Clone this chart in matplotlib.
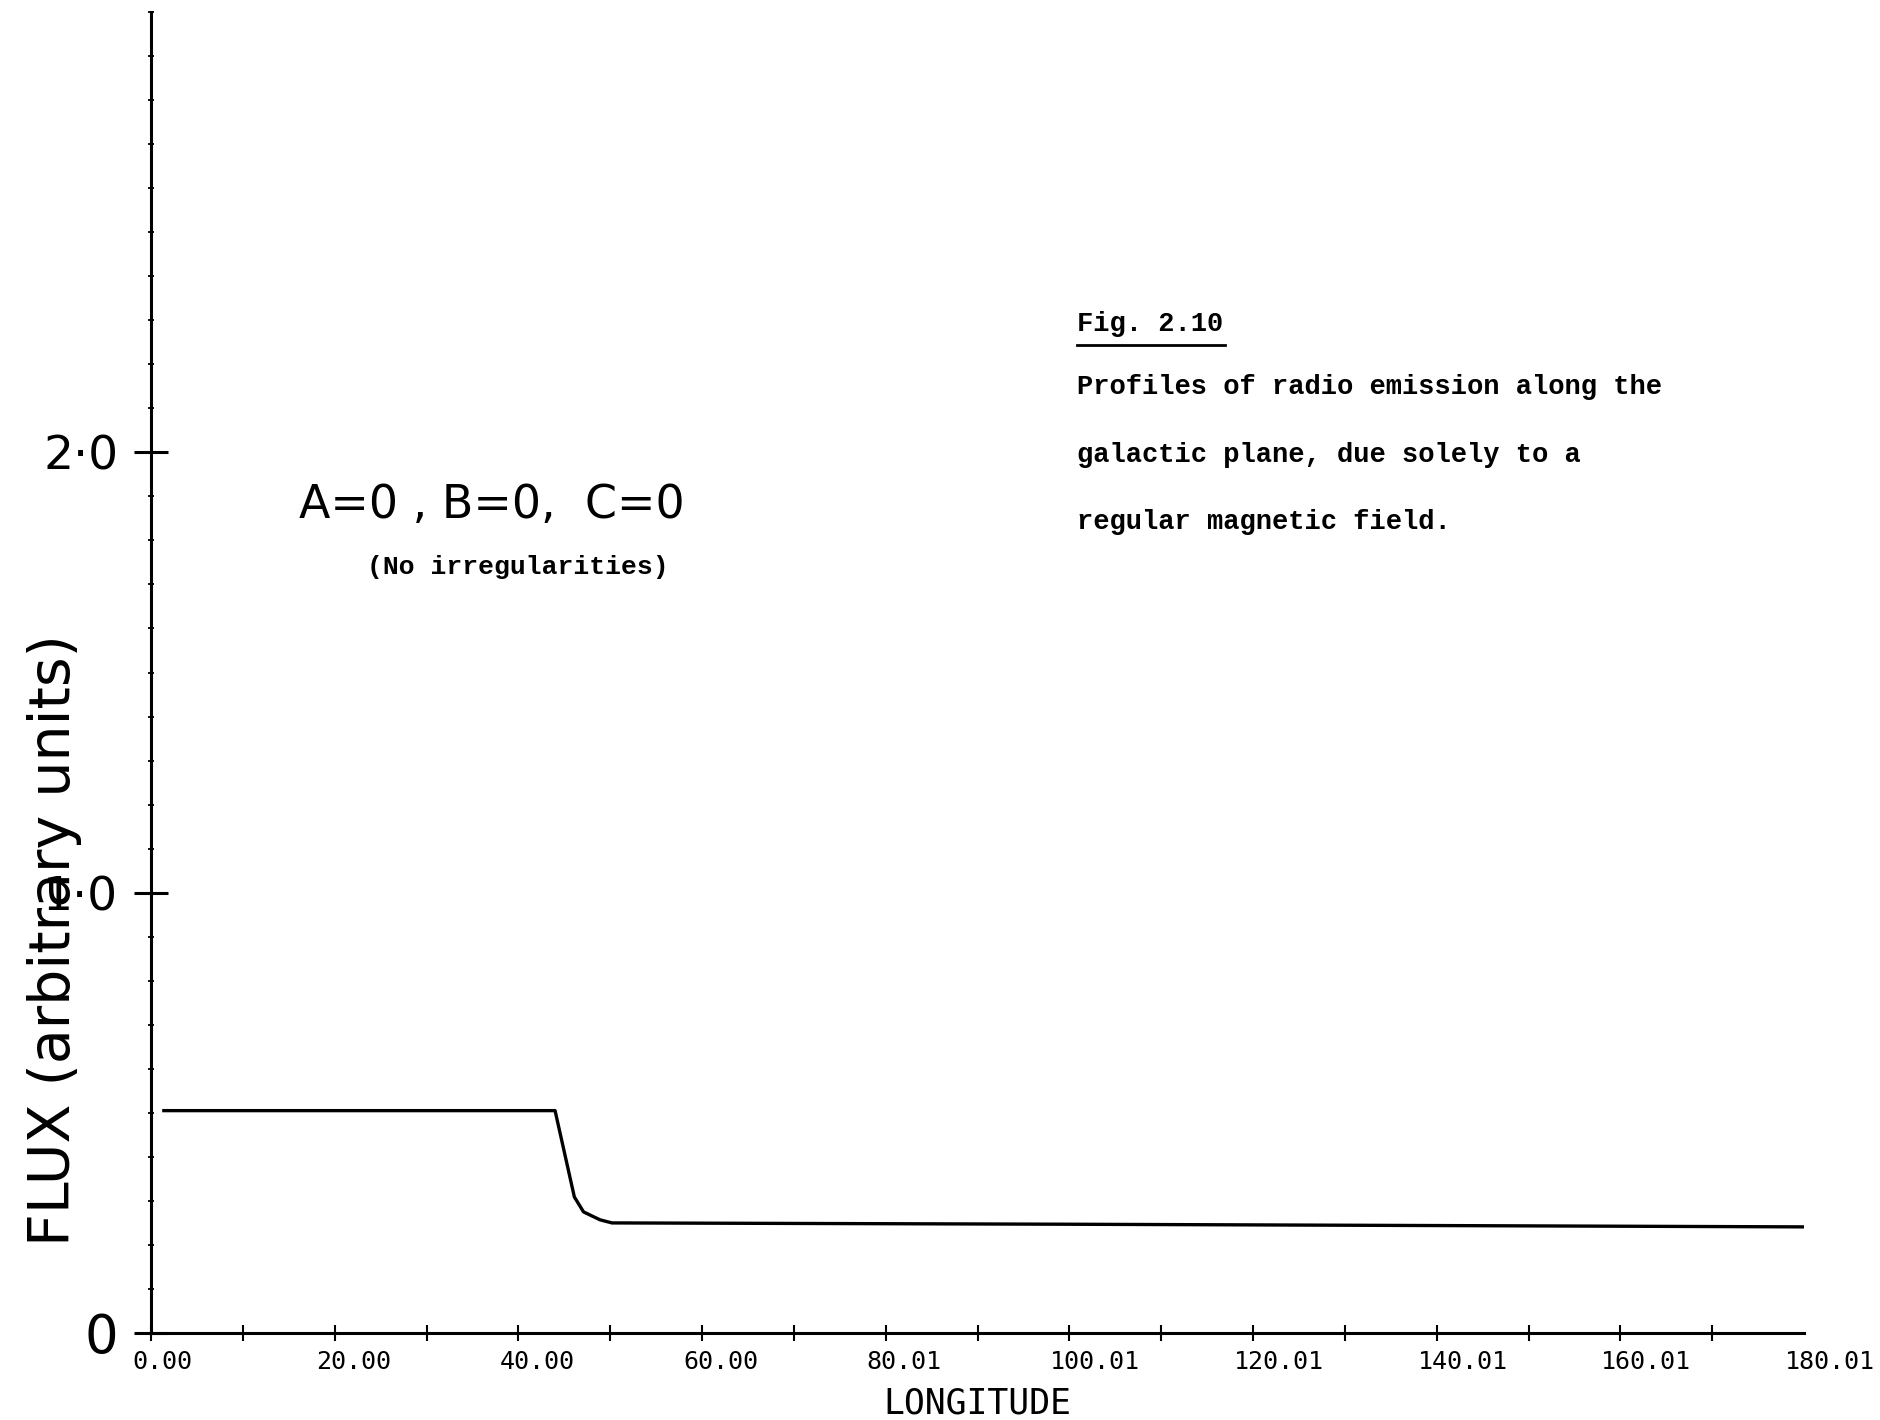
import matplotlib.pyplot as plt
from matplotlib.lines import Line2D
from matplotlib.ticker import MultipleLocator
from matplotlib.transforms import ScaledTranslation

# flux profile along the galactic plane (regular field only)
longitude = [1.4, 44.0, 46.1, 47.1, 48.9, 50.2, 100.0, 180.0]
flux = [0.505, 0.505, 0.309, 0.275, 0.257, 0.250, 0.247, 0.241]

x_ticks = [0, 20, 40, 60, 80, 100, 120, 140, 160, 180]
x_labels = ["0.00", "20.00", "40.00", "60.00", "80.01",
            "100.01", "120.01", "140.01", "160.01", "180.01"]
y_ticks = [0, 1, 2]
y_labels = ["0", "1·0", "2·0"]

caption_title = "Fig. 2.10"
caption_lines = ["Profiles of radio emission along the",
                 "galactic plane, due solely to a",
                 "regular magnetic field."]

W, H = 1880, 1420
fig = plt.figure(figsize=(W / 100, H / 100), dpi=100)
ax = fig.add_axes([151 / W, 1 - 1333 / H, (1804 - 151) / W, (1333 - 12) / H])

ax.plot(longitude, flux, color="black", lw=2.4, solid_joinstyle="round")
ax.set_xlim(0, 180)
ax.set_ylim(0, 3)

for side in ["top", "right"]:
    ax.spines[side].set_visible(False)
for side in ["left", "bottom"]:
    ax.spines[side].set_linewidth(2.2)

# x axis: plotter style labels hanging to the left of each tick
ax.set_xticks(x_ticks, x_labels, fontfamily="DejaVu Sans Mono", fontsize=18)
ax.xaxis.set_minor_locator(MultipleLocator(10))
ax.tick_params(axis="x", which="both", direction="inout", length=12, width=1.5, pad=6)
shift = ScaledTranslation(-0.19, 0, fig.dpi_scale_trans)
for lbl in ax.get_xticklabels():
    lbl.set_ha("left")
    lbl.set_transform(lbl.get_transform() + shift)
ax.xaxis.get_major_ticks()[-1].tick1line.set_visible(False)
ax.set_xlabel("LONGITUDE", fontfamily="DejaVu Sans Mono", fontsize=25, labelpad=9)

# y axis
ax.set_yticks(y_ticks, y_labels, fontsize=34)
ax.yaxis.set_minor_locator(MultipleLocator(0.1))
ax.tick_params(axis="y", which="major", direction="inout", length=25, width=2.2, pad=11)
ax.tick_params(axis="y", which="minor", direction="inout", length=4, width=1.3)
ax.get_yticklabels()[0].set_fontsize(38)
ax.set_ylabel("FLUX (arbitrary units)", fontsize=41)
ax.yaxis.set_label_coords(-0.042, 0.2975)

# model parameters
fig.text(492 / W, 1 - 505 / H, "A=0 , B=0,  C=0", ha="center", va="center", fontsize=33)
fig.text(518 / W, 1 - 567 / H, "(No irregularities)", ha="center", va="center",
         family="Liberation Mono", weight="bold", fontsize=19)

# typed caption
fig.text(1077 / W, 1 - 324 / H, caption_title, ha="left", va="center",
         family="Liberation Mono", weight="bold", fontsize=19.5)
fig.add_artist(Line2D([1077 / W, 1225 / W], [1 - 345 / H, 1 - 345 / H],
                      transform=fig.transFigure, color="black", lw=2))
for i, line in enumerate(caption_lines):
    fig.text(1077 / W, 1 - (387 + 67.5 * i) / H, line, ha="left", va="center",
             family="Liberation Mono", weight="bold", fontsize=19.5)

fig.savefig("out.png", dpi=100, facecolor="white")
